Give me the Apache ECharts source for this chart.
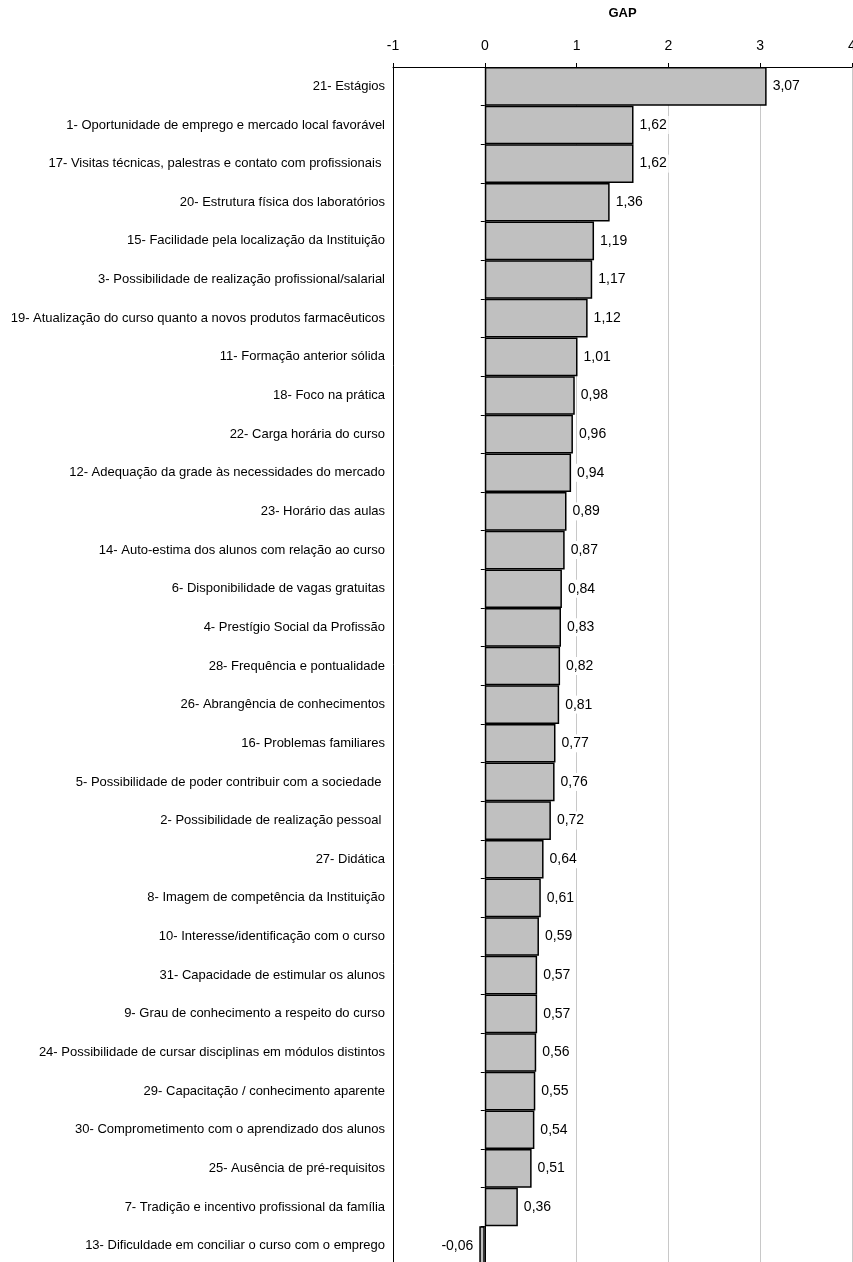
<!DOCTYPE html>
<html>
<head>
<meta charset="utf-8">
<script src="https://cdn.jsdelivr.net/npm/echarts@6/dist/echarts.min.js"></script>
<style>
html,body{margin:0;padding:0;background:#fff;}
#chart{width:853px;height:1262px;}
</style>
</head>
<body>
<div id="chart"></div>
<script>
const categories = [
  "21- Estágios",
  "1- Oportunidade de emprego e mercado local favorável",
  "17- Visitas técnicas, palestras e contato com profissionais ",
  "20- Estrutura física dos laboratórios",
  "15- Facilidade pela localização da Instituição",
  "3- Possibilidade de realização profissional/salarial",
  "19- Atualização do curso quanto a novos produtos farmacêuticos",
  "11- Formação anterior sólida",
  "18- Foco na prática",
  "22- Carga horária do curso",
  "12- Adequação da grade às necessidades do mercado",
  "23- Horário das aulas",
  "14- Auto-estima dos alunos com relação ao curso",
  "6- Disponibilidade de vagas gratuitas",
  "4- Prestígio Social da Profissão",
  "28- Frequência e pontualidade",
  "26- Abrangência de conhecimentos",
  "16- Problemas familiares",
  "5- Possibilidade de poder contribuir com a sociedade ",
  "2- Possibilidade de realização pessoal ",
  "27- Didática",
  "8- Imagem de competência da Instituição",
  "10- Interesse/identificação com o curso",
  "31- Capacidade de estimular os alunos",
  "9- Grau de conhecimento a respeito do curso",
  "24- Possibilidade de cursar disciplinas em módulos distintos",
  "29- Capacitação / conhecimento aparente",
  "30- Comprometimento com o aprendizado dos alunos",
  "25- Ausência de pré-requisitos",
  "7- Tradição e incentivo profissional da família",
  "13- Dificuldade em conciliar o curso com o emprego"
];
const gapValues = [3.07, 1.62, 1.62, 1.36, 1.19, 1.17, 1.12, 1.01, 0.98, 0.96, 0.94, 0.89, 0.87, 0.84, 0.83, 0.82, 0.81, 0.77, 0.76, 0.72, 0.64, 0.61, 0.59, 0.57, 0.57, 0.56, 0.55, 0.54, 0.51, 0.36, -0.06];
const axisTitle = "GAP";
const xMin = -1, xMax = 4, xStep = 1;

const FONT = "'Liberation Sans', Arial, sans-serif";
const chart = echarts.init(document.getElementById('chart'), null, {renderer: 'canvas'});
const gridLeft = 393, gridRight = 1;
const plotW = 853 - gridLeft - gridRight;
const zeroOffset = -plotW * (0 - xMin) / (xMax - xMin);

chart.setOption({
  animation: false,
  backgroundColor: '#fff',
  grid: {left: gridLeft, right: gridRight, top: 67, height: 1198, containLabel: false, outerBoundsMode: 'none'},
  xAxis: {
    type: 'value', position: 'top', min: xMin, max: xMax, interval: xStep,
    name: axisTitle, nameLocation: 'middle', nameGap: 47,
    nameTextStyle: {fontFamily: FONT, fontSize: 13, fontWeight: 'bold', color: '#000'},
    axisLine: {show: true, lineStyle: {color: '#000', width: 1}},
    axisTick: {show: true, length: 4, lineStyle: {color: '#000'}},
    axisLabel: {fontFamily: FONT, fontSize: 14, color: '#000', margin: 14},
    splitLine: {show: true, lineStyle: {color: '#c8c8c8', width: 1}}
  },
  yAxis: [{
    type: 'category', data: categories, inverse: true, position: 'left',
    axisLine: {show: true, onZero: false, lineStyle: {color: '#000', width: 1}},
    axisTick: {show: false},
    axisLabel: {fontFamily: FONT, fontSize: 13, color: '#000', margin: 8, interval: 0}
  }, {
    type: 'category', data: categories, inverse: true, position: 'left', offset: zeroOffset,
    axisLine: {show: true, onZero: false, lineStyle: {color: '#000', width: 1}},
    axisTick: {show: true, length: 4, lineStyle: {color: '#000'}},
    axisLabel: {show: false}
  }],
  series: [{
    type: 'bar', yAxisIndex: 0,
    data: gapValues.map(v => v < 0 ? {value: v, label: {position: 'left'}} : v),
    barCategoryGap: '0%',
    itemStyle: {color: '#c0c0c0', borderColor: '#000', borderWidth: 1.5},
    label: {
      show: true, position: 'right', distance: 4,
      fontFamily: FONT, fontSize: 14, color: '#000',
      backgroundColor: '#fff', padding: [2, 2],
      formatter: p => p.value.toFixed(2).replace('.', ',')
    }
  }]
});
</script>
</body>
</html>
